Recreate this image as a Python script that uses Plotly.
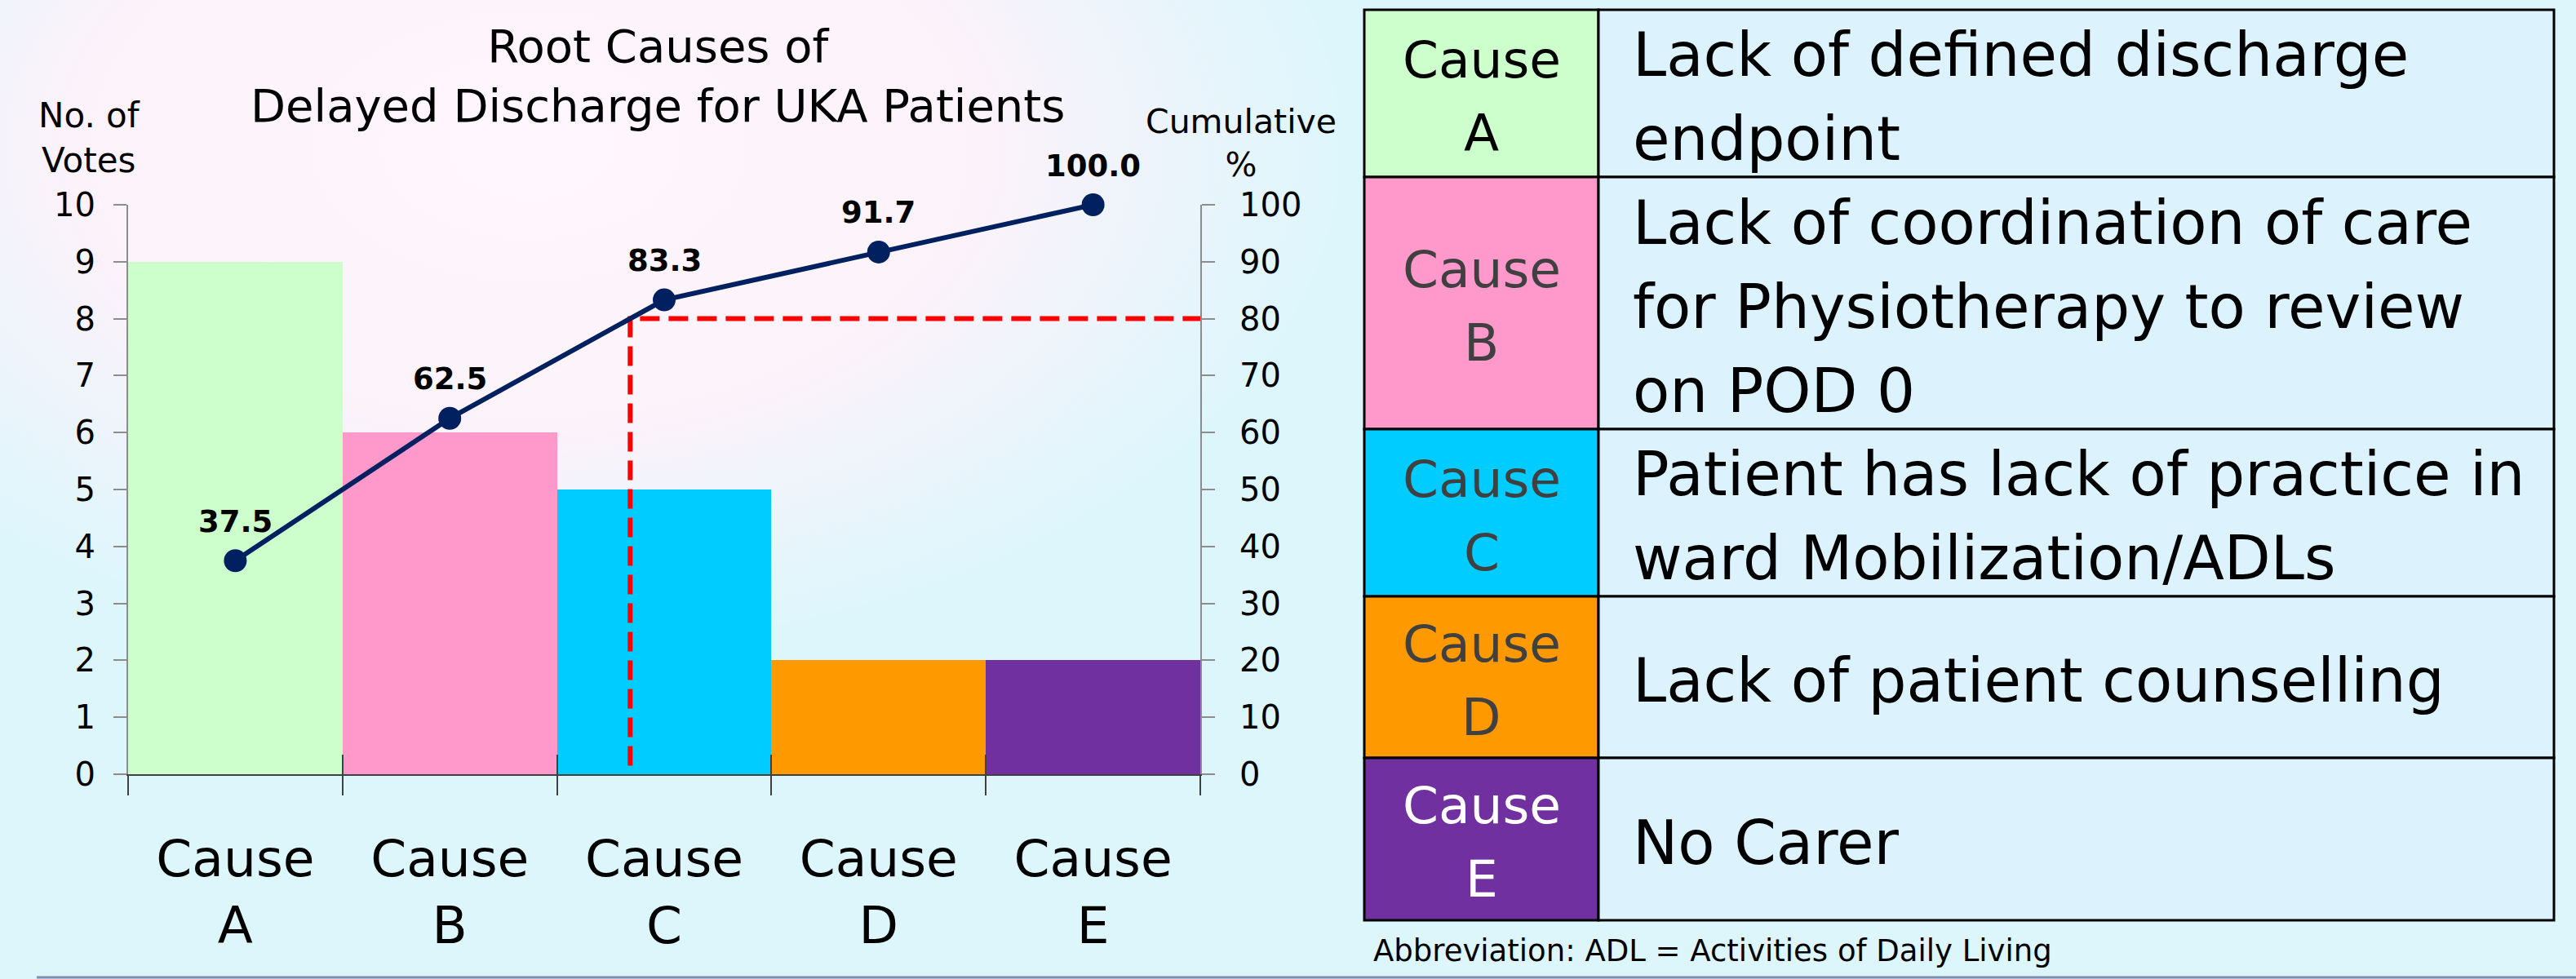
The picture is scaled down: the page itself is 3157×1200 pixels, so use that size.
import base64
import plotly.graph_objects as go

# ---------------- data ----------------
categories = ["Cause A", "Cause B", "Cause C", "Cause D", "Cause E"]
tick_labels = ["Cause<br>A", "Cause<br>B", "Cause<br>C", "Cause<br>D", "Cause<br>E"]
votes = [9, 6, 5, 2, 2]
cumulative_pct = [37.5, 62.5, 83.3, 91.7, 100.0]
bar_colors = ["#ccffcc", "#ff99cc", "#00ccff", "#ff9900", "#7030a0"]
threshold_pct = 80

table_causes = [["Cause", "A"], ["Cause", "B"], ["Cause", "C"], ["Cause", "D"], ["Cause", "E"]]
table_cause_text_colors = ["#000000", "#404040", "#404040", "#404040", "#ffffff"]
table_descriptions = [
    ["Lack of defined discharge", "endpoint"],
    ["Lack of coordination of care", "for Physiotherapy to review", "on POD 0"],
    ["Patient has lack of practice in", "ward Mobilization/ADLs"],
    ["Lack of patient counselling"],
    ["No Carer"],
]
footnote = "Abbreviation: ADL = Activities of Daily Living"

# ---------------- layout constants (pixels) ----------------
W, H = 3157, 1200
FONT = "DejaVu Sans"
PLOT_L, PLOT_R, PLOT_T, PLOT_B = 157, 1471, 251, 949
PW, PH = PLOT_R - PLOT_L, PLOT_B - PLOT_T
TAB_X = [1672, 1959, 3130]
TAB_Y = [12, 217, 526, 731, 929, 1128]


def px(x):
    return (x - PLOT_L) / PW


def py(y):
    return (PLOT_B - y) / PH


# background gradient as inline svg
svg = f'''<svg xmlns="http://www.w3.org/2000/svg" width="{W}" height="{H}" preserveAspectRatio="none">
<defs><radialGradient id="g" cx="650" cy="180" r="1000" gradientUnits="userSpaceOnUse"
 gradientTransform="translate(650 180) scale(1 0.62) translate(-650 -180)">
<stop offset="0" stop-color="#fff7fd"/><stop offset="0.55" stop-color="#fcf2fa"/>
<stop offset="1" stop-color="#fcf2fa" stop-opacity="0"/></radialGradient></defs>
<rect width="{W}" height="{H}" fill="#ddf6fc"/>
<rect width="{W}" height="{H}" fill="url(#g)"/>
</svg>'''
bg_src = "data:image/svg+xml;base64," + base64.b64encode(svg.encode()).decode()

xs = list(range(len(categories)))
x_end = len(categories) - 0.5

# position where cumulative line crosses threshold
k = next(i for i, v in enumerate(cumulative_pct) if v >= threshold_pct)
x80 = (k - 1) + (threshold_pct - cumulative_pct[k - 1]) / (cumulative_pct[k] - cumulative_pct[k - 1])

fig = go.Figure()
fig.add_trace(go.Bar(x=xs, y=votes, width=1, marker=dict(color=bar_colors, line=dict(width=0)),
                     hoverinfo="skip", showlegend=False))
fig.add_trace(go.Scatter(x=[x80, x80, x_end], y=[1.5, threshold_pct, threshold_pct], yaxis="y2",
                         mode="lines", line=dict(color="#ff0000", width=6, dash="24px,11px"),
                         hoverinfo="skip", showlegend=False))
fig.add_trace(go.Scatter(x=xs, y=cumulative_pct, yaxis="y2", mode="lines+markers", cliponaxis=False,
                         line=dict(color="#002060", width=6), marker=dict(size=28, color="#002060"),
                         hoverinfo="skip", showlegend=False))
# helper traces for boundary ticks
fig.add_trace(go.Scatter(x=[], y=[], xaxis="x2", yaxis="y", showlegend=False))
fig.add_trace(go.Scatter(x=[], y=[], xaxis="x3", yaxis="y", showlegend=False))

annotations = []
for x, v in zip(xs, cumulative_pct):
    annotations.append(dict(x=x, y=v, xref="x", yref="y2", text=f"{v:.1f}", showarrow=False,
                            xanchor="center", yshift=48,
                            font=dict(family=FONT, size=37, color="#000000", weight="bold")))

annotations.append(dict(x=px(806), y=py(93), xref="paper", yref="paper", yanchor="middle", xanchor="center",
                        text="Root Causes of<br>Delayed Discharge for UKA Patients", showarrow=False,
                        font=dict(family=FONT, size=56, color="#000000")))
annotations.append(dict(x=px(109), y=py(169), xref="paper", yref="paper", yanchor="middle", xanchor="center",
                        text="No. of<br>Votes", showarrow=False, font=dict(family=FONT, size=42, color="#000000")))
annotations.append(dict(x=px(1521), y=py(175), xref="paper", yref="paper", yanchor="middle", xanchor="center",
                        text="Cumulative<br>%", showarrow=False, font=dict(family=FONT, size=41, color="#000000")))

shapes = []
for i in range(len(table_causes)):
    y0, y1 = TAB_Y[i], TAB_Y[i + 1]
    shapes.append(dict(type="rect", xref="paper", yref="paper", x0=px(TAB_X[0]), x1=px(TAB_X[1]),
                       y0=py(y1), y1=py(y0), fillcolor=bar_colors[i], line=dict(color="#000000", width=3),
                       layer="below"))
    shapes.append(dict(type="rect", xref="paper", yref="paper", x0=px(TAB_X[1]), x1=px(TAB_X[2]),
                       y0=py(y1), y1=py(y0), fillcolor="#dcf3fd", line=dict(color="#000000", width=3),
                       layer="below"))
    yc = (y0 + y1) / 2 + 4
    lines = table_causes[i]
    for j, t in enumerate(lines):
        yy = yc + (j - (len(lines) - 1) / 2) * 90
        annotations.append(dict(x=px((TAB_X[0] + TAB_X[1]) / 2), y=py(yy), xref="paper", yref="paper",
                                yanchor="middle", xanchor="center", text=t, showarrow=False,
                                font=dict(family=FONT, size=63, color=table_cause_text_colors[i])))
    lines = table_descriptions[i]
    for j, t in enumerate(lines):
        yy = yc + (j - (len(lines) - 1) / 2) * 103
        annotations.append(dict(x=px(1999), y=py(yy), xref="paper", yref="paper",
                                yanchor="middle", xanchor="left", text=t, showarrow=False,
                                font=dict(family=FONT, size=74, color="#000000")))

annotations.append(dict(x=px(1681), y=py(1165), xref="paper", yref="paper", yanchor="middle",
                        xanchor="left", text=footnote, showarrow=False,
                        font=dict(family=FONT, size=37, color="#000000")))

shapes.append(dict(type="line", xref="paper", yref="paper", x0=px(45), x1=px(W), y0=py(1198), y1=py(1198),
                   line=dict(color="#7f8fae", width=3)))

axis_gray = "#8c8c8c"
fig.update_layout(
    width=W, height=H, autosize=False,
    margin=dict(l=PLOT_L, r=W - PLOT_R, t=PLOT_T, b=H - PLOT_B, pad=0),
    paper_bgcolor="#ddf6fc", plot_bgcolor="rgba(0,0,0,0)",
    font=dict(family=FONT, color="#000000"),
    bargap=0,
    showlegend=False,
    xaxis=dict(range=[-0.5, x_end], tickvals=xs, ticktext=tick_labels, ticks="", showgrid=False,
               zeroline=False, showline=True, linecolor="#404040", linewidth=2,
               tickfont=dict(family=FONT, size=63, color="#000000"), ticklabelstandoff=47),
    xaxis2=dict(overlaying="x", anchor="y", range=[-0.5, x_end], tickvals=[x - 0.5 for x in xs] + [x_end],
                ticks="outside", ticklen=25, tickwidth=2, tickcolor="#404040", showticklabels=False,
                showgrid=False, zeroline=False, showline=False),
    xaxis3=dict(overlaying="x", anchor="y", range=[-0.5, x_end], tickvals=[x - 0.5 for x in xs] + [x_end],
                ticks="inside", ticklen=24, tickwidth=2, tickcolor="#404040", showticklabels=False,
                showgrid=False, zeroline=False, showline=False),
    yaxis=dict(range=[0, 10], dtick=1, ticks="outside", ticklen=16, tickwidth=2, tickcolor=axis_gray,
               showline=True, linecolor=axis_gray, linewidth=2, showgrid=False, zeroline=False,
               tickfont=dict(family=FONT, size=40, color="#000000"), ticklabelstandoff=14),
    yaxis2=dict(range=[0, 100], dtick=10, overlaying="y", side="right", anchor="x", ticks="outside",
                ticklen=16, tickwidth=2, tickcolor=axis_gray, showline=True, linecolor=axis_gray,
                linewidth=2, showgrid=False, zeroline=False,
                tickfont=dict(family=FONT, size=40, color="#000000"), ticklabelstandoff=22),
    annotations=annotations,
    shapes=shapes,
    images=[dict(source=bg_src, xref="paper", yref="paper", x=px(0), y=py(0), sizex=W / PW, sizey=H / PH,
                 sizing="stretch", layer="below", xanchor="left", yanchor="top")],
)

fig.write_html("out.html", config={"displayModeBar": False},
               post_script="document.body.style.margin='0';document.body.style.overflow='hidden';")
